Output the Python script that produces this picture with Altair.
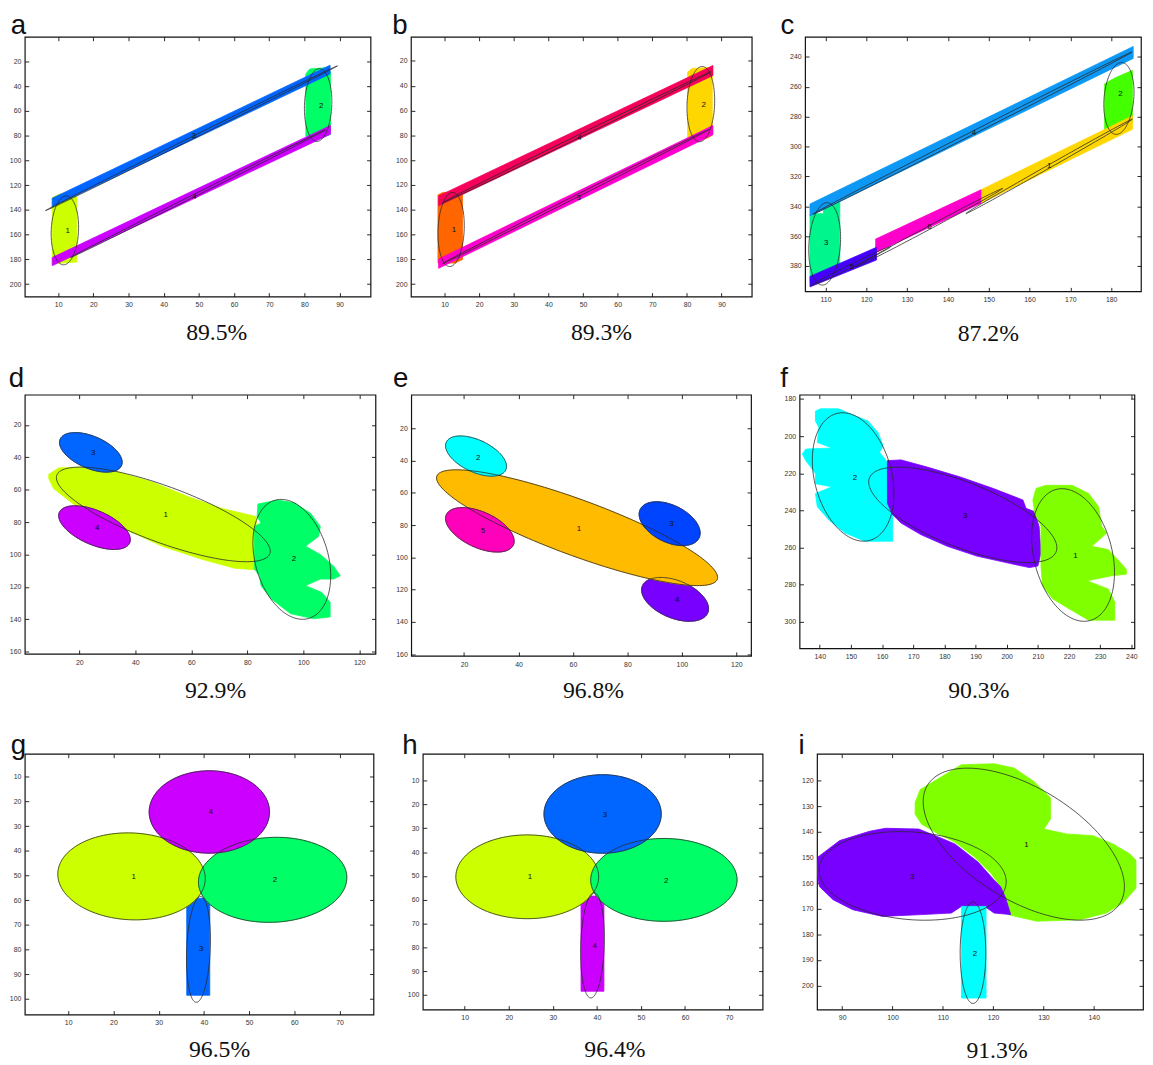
import math
import altair as alt
import pandas as pd

# ======================= DATA =======================
# ---------- panel a ----------
a_xticks = [10, 20, 30, 40, 50, 60, 70, 80, 90]
a_yticks = [20, 40, 60, 80, 100, 120, 140, 160, 180, 200]
a_ell_id = ["1", "2", "3", "4"]
a_ell_cx = [11.9, 83.9, 47.9, 49.75]
a_ell_cy = [156.5, 55.2, 82.0, 126.8]
a_ell_hw = [3.9, 3.9, 41.5, 36.25]
a_ell_tilt = [-2.6, -2.7, -58.5, -51.6]
a_ell_k = [27.7, 29.3, 1.1, 1.1]
a_lab_text = ["1", "2", "3", "4"]
a_lab_x = [12.7, 84.8, 48.5, 48.7]
a_lab_y = [157.0, 55.7, 80.5, 129.9]
a_poly_color = ["#ccff00", "#00ff66", "#0066ff", "#cc00ff"]
a_poly_x = [[8.3, 10.5, 14.5, 15.3, 15.3, 8.3],
            [80.4, 81.5, 86.0, 87.4, 87.4, 86.0, 80.4],
            [8.3, 87.3, 87.3, 8.3],
            [8.3, 87.4, 87.4, 8.3]]
a_poly_y = [[130, 127, 127, 130, 182, 183.5],
            [30, 26, 25, 28, 79, 80.5, 80.5],
            [130.5, 23, 30, 137.5],
            [178.4, 71.7, 78.7, 185]]
a_efill_id = []
a_efill_color = []

# ---------- panel b ----------
b_xticks = [10, 20, 30, 40, 50, 60, 70, 80, 90]
b_yticks = [20, 40, 60, 80, 100, 120, 140, 160, 180, 200]
b_ell_id = ["1", "2", "4", "3"]
b_ell_cx = [11.9, 84.0, 48.2, 47.95]
b_ell_cy = [155.9, 54.8, 81.5, 129.2]
b_ell_hw = [3.8, 4.0, 38.7, 38.45]
b_ell_tilt = [-3.2, -2.9, -52.7, -54.0]
b_ell_k = [29.7, 30.2, 1.3, 1.1]
b_lab_text = ["1", "2", "4", "3"]
b_lab_x = [12.7, 84.8, 48.9, 48.7]
b_lab_y = [156.2, 55.3, 81.9, 130.2]
b_poly_color = ["#ff6600", "#ffd700", "#f5005a", "#ff00cc"]
b_poly_x = [[8.1, 9.5, 14.5, 15.2, 15.2, 13.0, 8.1],
            [80.2, 81.5, 86.5, 87.3, 87.3, 86.0, 80.2],
            [8.3, 87.5, 87.5, 8.3],
            [8.3, 87.5, 87.5, 8.3]]
b_poly_y = [[128, 126, 126, 128, 180, 183, 183],
            [29, 26, 25.3, 27, 80, 82.4, 82.4],
            [128.8, 23.7, 31.7, 136.8],
            [179.7, 72.0, 79.5, 187.2]]
b_efill_id = []
b_efill_color = []

# ---------- panel c ----------
c_xticks = [110, 120, 130, 140, 150, 160, 170, 180]
c_yticks = [240, 260, 280, 300, 320, 340, 360, 380]
c_ell_id = ["1", "2", "3", "4", "5", "6"]
c_ell_cx = [164.8, 181.9, 109.8, 146.0, 116.25, 135.5]
c_ell_cy = [313.3, 267.8, 365.2, 291.0, 380.0, 354.2]
c_ell_hw = [20.4, 3.7, 3.9, 39.1, 9.75, 17.9]
c_ell_tilt = [-31.6, -4.2, -4.0, -54.3, -13.0, -26.1]
c_ell_k = [1.2, 23.7, 27.3, 1.2, 1.3, 1.3]
c_lab_text = ["1", "2", "3", "4", "5", "6"]
c_lab_x = [164.8, 182.3, 110.2, 146.4, 116.5, 135.5]
c_lab_y = [313.3, 264.7, 364.7, 291.2, 380.7, 354.2]
c_poly_color = ["#00f58c", "#44ff00", "#0d98f5", "#ffd700", "#ff00cc", "#4400ff"]
c_poly_x = [[106.2, 109.5, 109.5, 113.5, 113.5, 106.2],
            [178.4, 181.0, 185.2, 185.2, 182.0, 178.4],
            [106.2, 185.4, 185.4, 106.2],
            [148.1, 185.2, 185.2, 148.1],
            [122.3, 148.1, 148.1, 122.3],
            [106.2, 122.5, 122.5, 106.2]]
c_poly_y = [[345, 345, 336.5, 336.5, 381.5, 391],
            [258, 254, 249, 284, 289, 289],
            [338.5, 233, 241, 346.5],
            [329, 279.5, 288.5, 338],
            [362, 329, 338, 371],
            [387, 367.5, 376, 394]]
c_efill_id = []
c_efill_color = []

# ---------- panel d ----------
d_xticks = [20, 40, 60, 80, 100, 120]
d_yticks = [20, 40, 60, 80, 100, 120, 140, 160]
d_ell_id = ["1", "2", "3", "4"]
d_ell_cx = [50.0, 95.9, 24.1, 25.4]
d_ell_cy = [75.25, 103.0, 36.9, 83.4]
d_ell_hw = [38.2, 13.9, 11.2, 12.8]
d_ell_tilt = [22.7, 10.2, 6.1, 7.4]
d_ell_k = [18.4, 35.6, 10.6, 11.3]
d_lab_text = ["3", "1", "4", "2"]
d_lab_x = [24.9, 50.8, 26.4, 96.7]
d_lab_y = [37.5, 75.6, 83.7, 103.0]
d_poly_color = ["#ccff00", "#00ff66"]
d_poly_x = [[9.06, 12.6, 20.2, 32.0, 46.1, 59.1, 70.8, 80.8, 83.2, 83.2, 75.5, 63.8,
             49.6, 37.9, 28.5, 19.1, 10.8, 9.06],
            [83.8, 90.8, 96.7, 102.6, 106.1, 105.5, 100.8, 106.1, 110.8, 113.2, 110.8,
             106.1, 100.8, 106.6, 109.6, 109.6, 103.8, 95.5, 88.5, 84.9, 84.4, 82.6,
             82.6, 84.9, 83.5]]
d_poly_y = [[50.5, 46.5, 46.0, 48.1, 55.2, 64.4, 71.5, 75.6, 76.6, 109.5, 108.5, 103.0,
             94.9, 85.7, 78.2, 70.5, 59.3, 53.2],
            [68.8, 66.4, 68.0, 74.5, 82.7, 88.8, 94.9, 100.0, 107.1, 113.2, 115.2,
             115.2, 119.3, 123.4, 129.5, 138.6, 139.7, 136.6, 127.4, 119.3, 113.2, 109.1,
             82.7, 80.6, 76.6]]
d_efill_id = ["3", "4"]
d_efill_color = ["#0066ff", "#cc00ff"]

# ---------- panel e ----------
e_xticks = [20, 40, 60, 80, 100, 120]
e_yticks = [20, 40, 60, 80, 100, 120, 140, 160]
e_ell_id = ["1", "2", "3", "4", "5"]
e_ell_cx = [61.5, 24.4, 95.5, 97.5, 25.8]
e_ell_cy = [81.6, 37.2, 79.1, 126.0, 82.9]
e_ell_hw = [51.6, 11.2, 11.2, 12.3, 12.6]
e_ell_tilt = [30.8, 6.4, 5.8, 5.8, 7.0]
e_ell_k = [18.4, 10.7, 12.3, 12.3, 11.9]
e_lab_text = ["1", "2", "3", "4", "5"]
e_lab_x = [62.2, 25.2, 96.2, 98.3, 26.9]
e_lab_y = [82.4, 38.2, 79.6, 126.7, 83.9]
e_poly_color = []
e_poly_x = []
e_poly_y = []
e_efill_id = ["4", "1", "2", "5", "3"]
e_efill_color = ["#7700ff", "#ffbb00", "#00ffff", "#ff00bb", "#0044ff"]

# ---------- panel f ----------
f_xticks = [140, 150, 160, 170, 180, 190, 200, 210, 220, 230, 240]
f_yticks = [180, 200, 220, 240, 260, 280, 300]
f_ell_id = ["1", "2", "3"]
f_ell_cx = [221.3, 150.7, 185.9]
f_ell_cy = [264.0, 222.0, 242.4]
f_ell_hw = [13.3, 13.1, 30.2]
f_ell_tilt = [9.5, 8.9, 17.7]
f_ell_k = [34.4, 33.4, 18.6]
f_lab_text = ["2", "3", "1"]
f_lab_x = [151.3, 186.7, 222.1]
f_lab_y = [222.4, 242.8, 264.6]
f_poly_color = ["#00ffff", "#7700ff", "#80ff00"]
f_poly_x = [[138.6, 140.2, 146.0, 150.2, 155.5, 158.7, 160.3, 159.2, 161.3, 162.9, 163.4,
             163.4, 159.8, 154.5, 148.1, 142.9, 139.2, 138.6, 143.9, 138.6, 138.6, 135.5,
             134.4, 135.5, 143.9, 139.2, 139.7, 138.6],
            [161.7, 166.1, 174.5, 185.1, 195.7, 205.2, 206.2, 208.9, 210.4, 211.0, 210.0,
             207.3, 200.9, 190.4, 180.9, 172.4, 166.1, 163.4, 161.7],
            [209.4, 212.6, 221.0, 226.3, 229.5, 230.5, 232.1, 227.3, 232.6, 235.6, 238.4,
             238.4, 233.7, 225.8, 232.6, 234.7, 234.7, 226.3, 220.0, 214.7, 211.5, 211.0,
             211.0, 208.9, 208.4]]
f_poly_y = [[186.6, 185.3, 185.3, 188.3, 191.9, 198.1, 205.2, 208.7, 213.2, 218.5, 239.8,
             256.6, 256.6, 256.6, 252.2, 245.1, 238.0, 230.9, 227.3, 225.6, 220.2, 213.2,
             209.6, 207.0, 206.4, 203.4, 195.4, 191.9],
            [213.2, 212.8, 216.7, 222.0, 228.2, 234.4, 238.9, 240.6, 248.6, 262.8, 269.9,
             270.8, 268.5, 264.6, 259.3, 253.0, 246.8, 242.4, 236.2],
            [228.2, 226.5, 226.5, 230.9, 238.0, 248.6, 252.2, 259.3, 261.1, 266.4, 271.7,
             274.3, 275.2, 277.9, 282.3, 289.4, 299.1, 299.1, 292.9, 287.6, 280.5, 269.9,
             248.6, 240.6, 234.4]]
f_efill_id = []
f_efill_color = []

# ---------- panel g ----------
g_xticks = [10, 20, 30, 40, 50, 60, 70]
g_yticks = [10, 20, 30, 40, 50, 60, 70, 80, 90, 100]
g_ell_id = ["1", "2", "3", "4"]
g_ell_cx = [24.0, 55.2, 38.8, 41.2]
g_ell_cy = [50.4, 51.8, 80.0, 24.3]
g_ell_hw = [16.3, 16.4, 2.65, 13.3]
g_ell_tilt = [0.9, -0.9, -3.8, 0.0]
g_ell_k = [17.6, 17.2, 21.1, 16.7]
g_lab_text = ["4", "1", "2", "3"]
g_lab_x = [41.5, 24.5, 55.7, 39.4]
g_lab_y = [24.3, 50.6, 51.9, 80.0]
g_poly_color = ["#0066ff"]
g_poly_x = [[36.2, 37.5, 40.5, 41.3, 41.3, 36.2]]
g_poly_y = [[61.0, 59.3, 59.3, 61.0, 98.6, 98.6]]
g_efill_id = ["1", "2", "4"]
g_efill_color = ["#ccff00", "#00ff66", "#cc00ff"]

# ---------- panel h ----------
h_xticks = [10, 20, 30, 40, 50, 60, 70]
h_yticks = [10, 20, 30, 40, 50, 60, 70, 80, 90, 100]
h_ell_id = ["1", "2", "3", "4"]
h_ell_cx = [24.2, 55.2, 41.3, 39.0]
h_ell_cy = [50.4, 51.7, 24.0, 79.2]
h_ell_hw = [16.2, 16.6, 13.3, 2.7]
h_ell_tilt = [0.0, 0.0, 0.0, -3.0]
h_ell_k = [17.6, 17.4, 16.5, 21.9]
h_lab_text = ["3", "1", "2", "4"]
h_lab_x = [41.8, 24.8, 55.7, 39.5]
h_lab_y = [24.5, 50.4, 52.1, 79.5]
h_poly_color = ["#cc00ff"]
h_poly_x = [[36.4, 38.0, 40.0, 41.6, 41.6, 36.4]]
h_poly_y = [[62.0, 58.5, 58.5, 62.0, 98.5, 98.5]]
h_efill_id = ["1", "2", "3"]
h_efill_color = ["#ccff00", "#00ff66", "#0066ff"]

# ---------- panel i ----------
i_xticks = [90, 100, 110, 120, 130, 140]
i_yticks = [120, 130, 140, 150, 160, 170, 180, 190, 200]
i_ell_id = ["1", "2", "3"]
i_ell_cx = [126.1, 116.0, 104.0]
i_ell_cy = [144.8, 187.2, 157.2]
i_ell_hw = [20.0, 2.55, 18.6]
i_ell_tilt = [16.6, 0.0, 2.25]
i_ell_k = [24.6, 19.8, 17.15]
i_lab_text = ["1", "3", "2"]
i_lab_x = [126.6, 103.9, 116.4]
i_lab_y = [145.1, 157.5, 187.8]
i_poly_color = ["#80ff00", "#7700ff", "#00ffff"]
i_poly_x = [[105.5, 113.7, 120.2, 124.2, 128.1, 131.4, 131.4, 130.1, 134.6, 139.9, 143.8,
             147.1, 148.4, 148.4, 145.8, 142.5, 137.3, 128.7, 122.9, 122.5, 121.5, 119.6,
             116.3, 112.4, 109.1, 105.8, 104.5, 104.5],
            [85.2, 89.5, 95.4, 98.6, 105.2, 108.5, 112.4, 117.0, 120.2, 121.5, 122.4, 123.5,
             120.2, 118.3, 113.7, 111.7, 105.8, 98.0, 92.1, 88.2, 85.5, 85.0],
            [113.7, 118.6, 118.6, 113.7]]
i_poly_y = [[123.5, 113.8, 113.4, 115.1, 120.3, 126.7, 135.0, 138.9, 140.8, 141.5, 144.7,
             148.5, 151.1, 162.0, 167.8, 171.7, 174.3, 174.9, 172.3, 165.3, 161.4, 156.3,
             149.8, 144.0, 140.8, 137.0, 133.1, 128.6],
            [149.8, 143.4, 139.8, 138.6, 138.9, 141.5, 144.7, 151.8, 158.8, 161.4, 165.3,
             172.3, 171.7, 169.1, 169.1, 171.7, 172.3, 173.0, 170.4, 166.5, 161.4, 156.3],
            [169.1, 169.1, 204.9, 204.9]]
i_efill_id = []
i_efill_color = []

# ======================= LAYOUT / STYLE =======================
LAYOUT = {
    "a": dict(pct="89.5%", w=350, h=263, xdom=[0.5, 98.8], ydom=[0, 210], dx=-14.2, toff=-25.8, px=193.8, py=43.7),
    "b": dict(pct="89.3%", w=345, h=263, xdom=[0.3, 98.7], ydom=[0.5, 210], dx=-18.8, toff=-25.8, px=192.4, py=43.7),
    "c": dict(pct="87.2%", w=340, h=257.7, xdom=[105, 187.3], ydom=[226.5, 397], dx=-24.9, toff=-25.8, px=185, py=50),
    "d": dict(pct="92.9%", w=355, h=262.4, xdom=[0.5, 125.8], ydom=[1.27, 161.4], dx=-16.2, toff=-21, px=192.6, py=44.3),
    "e": dict(pct="96.8%", w=344, h=264.4, xdom=[0.6, 125.4], ydom=[-0.84, 161], dx=-18.5, toff=-21, px=184, py=42.3),
    "f": dict(pct="90.3%", w=339, h=256.7, xdom=[133.5, 241], ydom=[177.7, 314.2], dx=-19.5, toff=-21, px=181, py=50),
    "g": dict(pct="96.5%", w=353, h=264, xdom=[0.4, 77.5], ydom=[0.7, 106.4], dx=-14.2, toff=-28.3, px=196.7, py=42.3),
    "h": dict(pct="96.4%", w=344, h=259, xdom=[0.5, 77.6], ydom=[-1.3, 106.2], dx=-20.8, toff=-28.3, px=194, py=47.3),
    "i": dict(pct="91.3%", w=330, h=259, xdom=[85, 149.8], ydom=[109.5, 209.4], dx=-18.8, toff=-28.3, px=181.7, py=48.3),
}

G = globals()


def panel_data(p):
    return {k: G[f"{p}_{k}"] for k in [
        "xticks", "yticks", "ell_id", "ell_cx", "ell_cy", "ell_hw", "ell_tilt", "ell_k",
        "lab_text", "lab_x", "lab_y", "poly_color", "poly_x", "poly_y", "efill_id", "efill_color"]}


def ellipse_frame(D, n=160):
    rows = []
    for j, eid in enumerate(D["ell_id"]):
        for s in range(n + 1):
            t = 2 * math.pi * s / n
            rows.append({"id": eid, "s": s,
                         "x": D["ell_cx"][j] + D["ell_hw"][j] * math.cos(t),
                         "y": D["ell_cy"][j] + D["ell_tilt"][j] * math.cos(t) + D["ell_k"][j] * math.sin(t)})
    return pd.DataFrame(rows)


def make_panel(p):
    cfg = LAYOUT[p]
    D = panel_data(p)
    xs = alt.Scale(domain=cfg["xdom"], nice=False, zero=False)
    ys = alt.Scale(domain=cfg["ydom"], nice=False, zero=False, reverse=True)
    ax_b = alt.Axis(orient="bottom", values=D["xticks"], title=cfg["pct"], titleX=cfg["px"],
                    titleY=cfg["py"] + 4, titleAlign="center", titleBaseline="alphabetic", titleAngle=0)
    ax_l = alt.Axis(orient="left", values=D["yticks"], title=None)
    ax_t = alt.Axis(orient="top", values=D["xticks"], labels=False, title=None)
    ax_r = alt.Axis(orient="right", values=D["yticks"], labels=False, title=None)

    ell = ellipse_frame(D)
    shapes = []
    for col, px, py in zip(D["poly_color"], D["poly_x"], D["poly_y"]):
        df = pd.DataFrame({"x": list(px) + [px[0]], "y": list(py) + [py[0]],
                           "s": list(range(len(px) + 1))})
        shapes.append((df, col))
    for eid, col in zip(D["efill_id"], D["efill_color"]):
        shapes.append((ell[ell["id"] == eid][["x", "y", "s"]], col))

    layers = []
    for n, (df, col) in enumerate(shapes):
        first = n == 0
        layers.append(
            alt.Chart(df).mark_line(clip=True, strokeWidth=0.8).encode(
                x=alt.X("x:Q", scale=xs, axis=ax_b if first else None),
                y=alt.Y("y:Q", scale=ys, axis=ax_l if first else None),
                order=alt.Order("s:Q"),
                fill=alt.value(col),
                stroke=alt.value(col),
            )
        )
    layers.append(
        alt.Chart(ell).mark_line(clip=True, strokeWidth=0.8, color="#2a2a2a").encode(
            x=alt.X("x:Q", scale=xs, axis=ax_t),
            y=alt.Y("y:Q", scale=ys, axis=ax_r),
            detail="id:N",
            order=alt.Order("s:Q"),
        )
    )
    lab = pd.DataFrame({"x": D["lab_x"], "y": D["lab_y"], "t": D["lab_text"]})
    layers.append(
        alt.Chart(lab).mark_text(font="Liberation Sans", fontSize=8, color="#111").encode(
            x=alt.X("x:Q", scale=xs, axis=None),
            y=alt.Y("y:Q", scale=ys, axis=None),
            text="t:N",
        )
    )
    return alt.layer(*layers).resolve_axis(x="independent", y="independent").properties(
        width=cfg["w"], height=cfg["h"],
        title=alt.TitleParams(text=p, anchor="start", frame="group", dx=cfg["dx"],
                              offset=cfg["toff"], baseline="alphabetic"),
    )


row1 = alt.hconcat(alt.hconcat(make_panel("a"), make_panel("b"), spacing=18.9), make_panel("c"), spacing=26.9)
row2 = alt.hconcat(alt.hconcat(make_panel("d"), make_panel("e"), spacing=14.2), make_panel("f"), spacing=26.3)
row3 = alt.hconcat(alt.hconcat(make_panel("g"), make_panel("h"), spacing=25.9), make_panel("i"), spacing=34)

chart = alt.vconcat(row1, alt.vconcat(row2, row3, spacing=27.5), spacing=17.3).properties(
    padding={"left": 0, "top": -3.4, "right": 0, "bottom": 0}
).configure_view(
    stroke="#111", strokeWidth=1.2
).configure_axis(
    labelFont="Liberation Sans", labelFontSize=7, labelColor="#333", tickColor="#111",
    tickSize=4, tickWidth=0.9, offset=-4, domain=False, grid=False, labelFlush=False,
    minExtent=0, titleFont="Liberation Serif", titleFontSize=24, titleFontWeight="normal",
    titleColor="#111",
).configure_axisX(labelPadding=4.5).configure_axisY(labelPadding=4).configure_title(
    font="Liberation Sans", fontSize=28, fontWeight="normal", color="#111",
)

chart.save("out.html", embed_options={"renderer": "svg", "actions": False})
